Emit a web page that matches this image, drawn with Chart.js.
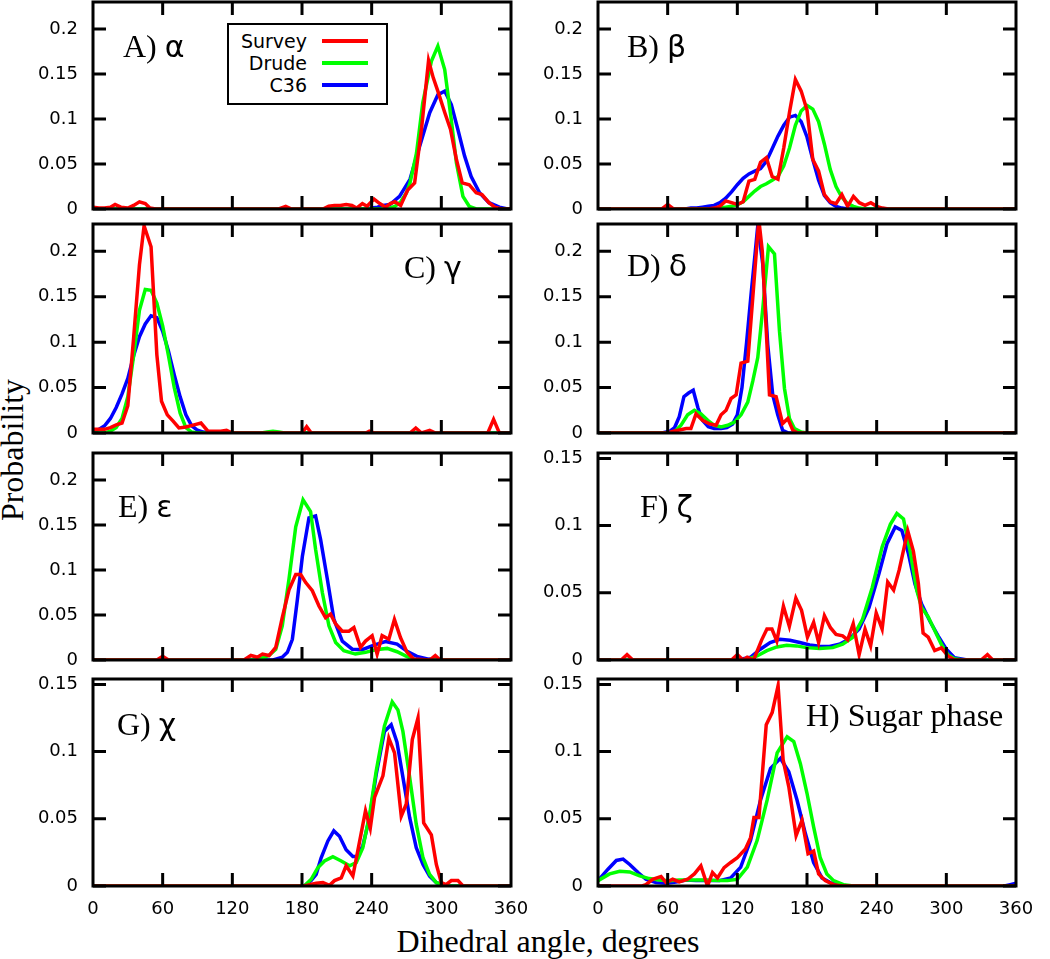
<!DOCTYPE html>
<html>
<head>
<meta charset="utf-8">
<title>Dihedral angle distributions</title>
<script src="https://cdn.jsdelivr.net/npm/chart.js@4.4.1/dist/chart.umd.min.js"></script>
<style>
  html, body { margin: 0; padding: 0; background: #fff; }
  body { position: relative; width: 1050px; height: 959px; overflow: hidden; }
  .panel { position: absolute; }
  #legend { position: absolute; left: 227px; top: 23px; width: 157px; height: 78px; border: 2px solid #000; background: #fff; z-index: 10; }
  .lg-text { position: absolute; left: 0; width: 78px; text-align: right; font: 19px "DejaVu Sans"; line-height: 22px; color: #000; }
  .lg-line { position: absolute; left: 93px; width: 46px; height: 4px; }
  .title { position: absolute; font: 32px "Liberation Serif"; line-height: 32px; white-space: nowrap; color: #000; }
</style>
</head>
<body>

<div id="legend">
  <div class="lg-text" style="top:5px">Survey</div><div class="lg-line" style="top:14px;background:#ff0000"></div>
  <div class="lg-text" style="top:27px">Drude</div><div class="lg-line" style="top:36px;background:#00ff00"></div>
  <div class="lg-text" style="top:49px">C36</div><div class="lg-line" style="top:58px;background:#0000ff"></div>
</div>
<div class="title" style="left:548px;top:925px;transform:translateX(-50%)">Dihedral angle, degrees</div>
<div class="title" style="left:12px;top:450px;transform:translate(-50%,-50%) rotate(-90deg)">Probability</div>

<script>
// tick values
const xTicks = [0, 60, 120, 180, 240, 300, 360];
const yTicksWide = [0, 0.05, 0.1, 0.15, 0.2];
const yTicksNarrow = [0, 0.05, 0.1, 0.15];

const seriesNames = ['Survey', 'Drude', 'C36'];
const seriesColors = ['#ff0000', '#00ff00', '#0000ff'];

// [angle, probability]
const alphaSurvey = [[0,0.002],[5,0.001],[10,0.001],[15,0.002],[19,0.005],[24,0.002],[30,0.001],[35,0.004],[40,0.008],[45,0.006],[49,0.001],[54,0],[160,0],[166,0.003],[171,0],[198,0],[203,0.003],[208,0.004],[213,0.004],[218,0.005],[223,0.004],[227,0.001],[232,0.006],[236,0.003],[242,0.011],[247,0.006],[252,0.002],[256,0.006],[260,0.008],[265,0.004],[271,0.021],[277,0.029],[283,0.09],[289,0.165],[293,0.146],[297,0.131],[303,0.107],[308,0.088],[313,0.055],[318,0.029],[324,0.027],[330,0.018],[335,0.016],[341,0.007],[346,0.002],[352,0],[360,0]];
const alphaDrude = [[0,0],[250,0],[255,0.001],[260,0.003],[265,0.008],[270,0.018],[273,0.029],[278.6,0.062],[284,0.118],[291.4,0.164],[297,0.181],[302.9,0.155],[308.6,0.099],[313,0.051],[318.6,0.014],[324,0.003],[330,0],[360,0]];
const alphaC36 = [[0,0],[235,0],[240,0.001],[245,0.002],[250,0.004],[255.7,0.005],[264,0.014],[273,0.033],[281.4,0.07],[290,0.107],[297,0.127],[302.9,0.131],[308.6,0.116],[314.3,0.088],[320,0.059],[325.7,0.036],[332.9,0.018],[341,0.007],[350,0.002],[357,0],[360,0]];

const betaSurvey = [[0,0],[55,0],[60,0.005],[65,0],[95,0],[100,0.001],[105,0.003],[110,0.009],[115,0.007],[120,0.005],[125,0.008],[130,0.031],[135,0.033],[140,0.052],[145,0.057],[150,0.036],[155,0.033],[160,0.068],[165,0.108],[170,0.144],[175,0.131],[180,0.11],[185,0.055],[190,0.042],[195,0.016],[200,0.008],[205,0.006],[210,0.016],[215,0.003],[220,0.014],[225,0.007],[230,0.004],[235,0.007],[240,0.003],[245,0.001],[250,0],[360,0]];
const betaDrude = [[0,0],[100,0],[105,0.001],[110,0.002],[115,0.003],[120,0.005],[125,0.008],[130,0.014],[135,0.02],[140,0.025],[145,0.028],[150,0.032],[155,0.036],[160,0.048],[165,0.068],[170,0.093],[175,0.109],[180,0.115],[185,0.111],[190,0.097],[195,0.072],[200,0.044],[205,0.025],[210,0.013],[215,0.006],[220,0.003],[225,0.001],[230,0],[360,0]];
const betaC36 = [[0,0],[75,0],[80,0.001],[85,0.001],[90,0.002],[95,0.003],[100,0.004],[105,0.007],[110,0.012],[115,0.019],[120,0.027],[125,0.034],[130,0.039],[135,0.042],[140,0.045],[145,0.053],[150,0.067],[155,0.081],[160,0.093],[165,0.102],[170,0.104],[175,0.097],[180,0.08],[185,0.055],[190,0.032],[195,0.015],[200,0.007],[205,0.003],[210,0.001],[215,0],[360,0]];

const gammaSurvey = [[0,0.004],[5,0.004],[10,0.004],[15,0.006],[20,0.009],[25,0.011],[30,0.03],[35,0.105],[40,0.185],[44,0.228],[50,0.205],[55,0.086],[59,0.035],[64,0.02],[69,0.013],[74,0.0055],[80,0.0066],[87,0.009],[93,0.011],[99,0.002],[105,0.002],[110,0.002],[115,0.003],[120,0],[180,0],[184,0.007],[188,0],[235,0],[238,0.002],[242,0],[273,0],[278,0.0055],[283,0],[290,0.003],[295,0],[340,0],[345,0.015],[350,0],[360,0]];
const gammaDrude = [[0,0],[10,0],[15,0.002],[20,0.006],[25,0.016],[30,0.04],[35,0.085],[40,0.135],[45,0.158],[50,0.157],[55,0.143],[60,0.118],[65,0.085],[70,0.05],[75,0.022],[80,0.006],[85,0.001],[90,0],[145,0],[150,0.001],[155,0.002],[160,0.001],[165,0],[360,0]];
const gammaC36 = [[0,0.001],[5,0.004],[10,0.008],[15,0.016],[20,0.028],[25,0.043],[30,0.06],[35,0.085],[40,0.106],[45,0.12],[50,0.129],[55,0.127],[60,0.112],[65,0.09],[70,0.064],[75,0.04],[80,0.02],[85,0.008],[90,0.003],[95,0.001],[100,0],[360,0]];

const deltaSurvey = [[0,0],[60,0],[65,0.002],[69,0.003],[76,0.005],[80,0.005],[84.4,0.021],[90,0.014],[96,0.01],[101.7,0.0085],[106,0.02],[110.3,0.025],[114.6,0.038],[119,0.042],[123.2,0.077],[129,0.079],[133.3,0.149],[138.5,0.235],[141.5,0.2],[147.7,0.042],[153.4,0.04],[159,0.0104],[163.5,0.016],[167.8,0.003],[172,0],[360,0]];
const deltaDrude = [[0,0],[60,0],[65.7,0.001],[71.5,0.0085],[77.2,0.02],[83,0.025],[88.7,0.021],[94.5,0.014],[100.2,0.0085],[106,0.0067],[111.7,0.0085],[117.5,0.012],[123.2,0.02],[129,0.034],[133.3,0.057],[137.6,0.083],[142,0.138],[146.8,0.205],[152,0.197],[156.3,0.112],[160.6,0.049],[164.9,0.016],[169.2,0.005],[175,0.001],[180,0],[360,0]];
const deltaC36 = [[0,0],[55,0],[62,0.002],[66,0.006],[70,0.018],[74,0.04],[78,0.044],[82,0.047],[86,0.028],[90,0.014],[95,0.007],[100,0.005],[106,0.005],[111,0.006],[116,0.01],[120,0.02],[124,0.05],[128,0.1],[132,0.155],[135.5,0.2],[137.6,0.228],[141.9,0.186],[146.2,0.097],[150.5,0.042],[154.8,0.02],[159,0.003],[164,0],[360,0]];

const epsilonSurvey = [[0,0],[55,0],[60,0.004],[65,0],[130,0],[136,0.005],[141.6,0.003],[146,0.0066],[151.6,0.005],[157.4,0.014],[163,0.047],[168.8,0.078],[174.6,0.095],[178.9,0.095],[183.2,0.086],[188.9,0.077],[194.6,0.06],[200.3,0.047],[204.6,0.051],[209,0.04],[214.7,0.032],[220.4,0.032],[224.7,0.036],[230.4,0.014],[234.7,0.021],[240.4,0.027],[244.7,0.0066],[249,0.027],[254.8,0.023],[259.6,0.045],[264.8,0.025],[270.5,0.0085],[276.2,0.001],[290,0],[294.8,0.005],[299,0],[360,0]];
const epsilonDrude = [[0,0],[140,0],[143,0.001],[151.6,0.005],[157.4,0.012],[163,0.038],[168.8,0.09],[174.6,0.148],[180.9,0.178],[187.4,0.165],[191.7,0.123],[197.5,0.075],[203.2,0.038],[209,0.0195],[216,0.0103],[226,0.0066],[234.7,0.0085],[243.3,0.0114],[253.3,0.0129],[261.9,0.0092],[270.5,0.0037],[278,0],[360,0]];
const epsilonC36 = [[0,0],[155,0],[157.4,0.001],[163,0.003],[167.4,0.0085],[171.7,0.023],[176,0.067],[180.3,0.115],[186,0.158],[191.7,0.16],[196,0.134],[201.8,0.09],[207.5,0.045],[214.7,0.021],[223.3,0.012],[231.9,0.0114],[241.9,0.0166],[251.9,0.0206],[261.9,0.0177],[270.5,0.0096],[279,0.004],[289,0.001],[298,0],[360,0]];

const zetaSurvey = [[0,0],[20,0],[25,0.004],[30,0],[115,0],[120,0.004],[125,0],[128.5,0.002],[134,0],[141,0.015],[145.5,0.023],[149.8,0.023],[154,0.014],[159.7,0.04],[164.8,0.025],[170.4,0.046],[175.3,0.037],[180.4,0.017],[185.7,0.028],[190,0.013],[195,0.033],[200.2,0.024],[205,0.019],[210.7,0.018],[215,0.015],[219.8,0.027],[224.9,0.004],[230,0.023],[234.8,0.0105],[239.6,0.035],[244.7,0.023],[249.5,0.058],[254.6,0.052],[259.4,0.067],[266.8,0.096],[271.6,0.081],[275.9,0.057],[280,0.02],[284.4,0.017],[290,0.007],[295.7,0.009],[301.4,0.003],[307,0],[330,0],[335.4,0.004],[340,0],[360,0]];
const zetaDrude = [[0,0],[125,0],[128.5,0.0005],[137,0.003],[145.5,0.007],[154,0.0097],[162.5,0.011],[171,0.0105],[179.5,0.0092],[190.9,0.0085],[202.2,0.0092],[210.7,0.0117],[219.2,0.0167],[227.7,0.03],[236.2,0.054],[244.7,0.084],[251.8,0.101],[257.4,0.109],[263.1,0.105],[268.8,0.081],[274.5,0.052],[278.7,0.039],[284.4,0.032],[290,0.022],[295.7,0.0117],[301.4,0.004],[307,0.001],[315,0],[360,0]];
const zetaC36 = [[0,0],[120,0],[131.3,0.002],[139.8,0.008],[148.3,0.013],[156.8,0.0155],[165.3,0.0147],[173.8,0.013],[182.3,0.0112],[190.9,0.0102],[199.4,0.01],[207.9,0.0117],[216.4,0.0155],[224.9,0.023],[233.4,0.039],[241.9,0.064],[248.9,0.0865],[256,0.099],[261.7,0.0964],[267.4,0.079],[273,0.0566],[278.7,0.0416],[285.8,0.029],[292.9,0.018],[300,0.008],[307,0.0017],[318,0],[360,0]];

const chiSurvey = [[0,0],[182,0],[186.5,0.001],[192.2,0.002],[198,0.0025],[203.7,0.0005],[208,0.004],[213.8,0.006],[218,0.015],[223.8,0.0074],[228,0.026],[234.7,0.056],[238.8,0.043],[242.5,0.066],[249.7,0.082],[254.8,0.11],[259.7,0.099],[265.5,0.052],[269.8,0.061],[275,0.109],[279.9,0.125],[284.8,0.047],[291.4,0.038],[295.7,0.016],[300,0.0025],[304,0.001],[308.6,0.004],[314.3,0.004],[318.7,0],[360,0]];
const chiDrude = [[0,0],[182,0],[187.9,0.005],[193.6,0.0136],[199.4,0.0186],[206.6,0.0218],[213.8,0.0186],[221,0.015],[226.7,0.0174],[232.4,0.0285],[238.2,0.053],[243.9,0.0855],[251,0.119],[257.7,0.137],[262.6,0.131],[266.9,0.115],[272.7,0.081],[278.4,0.046],[284.2,0.021],[289.9,0.0087],[295.7,0.0025],[301.4,0.001],[306,0],[360,0]];
const chiC36 = [[0,0],[182,0],[187.9,0.004],[192.2,0.0087],[196.5,0.021],[202.3,0.0335],[207.4,0.041],[212.3,0.037],[218,0.027],[223.8,0.022],[228,0.022],[232.4,0.03],[238.2,0.051],[243.9,0.083],[251,0.115],[256.8,0.12],[261.8,0.107],[266.9,0.081],[272.7,0.051],[278.4,0.0285],[284.2,0.016],[289.9,0.0074],[295.7,0.0025],[301.4,0.001],[306,0],[360,0]];

const sugarSurvey = [[0,0],[38,0],[41.3,0.001],[47,0.005],[54.3,0.007],[58.6,0.0025],[64.3,0.005],[70,0.003],[77.2,0.005],[83,0.009],[88.6,0.015],[94.3,0],[98.6,0.01],[102.9,0.006],[108.6,0.0137],[114.3,0.0175],[120,0.021],[127,0.0275],[131.4,0.036],[134.3,0.051],[138.6,0.051],[144.9,0.12],[150,0.129],[155.1,0.149],[159.4,0.094],[164.3,0.074],[170.6,0.0375],[175.7,0.049],[180.9,0.024],[185.7,0.026],[190,0.009],[195.7,0.004],[202.9,0.001],[210,0],[360,0]];
const sugarDrude = [[0,0.004],[10,0.009],[18.7,0.011],[27.3,0.0105],[35.9,0.0075],[44.2,0.0055],[52.8,0.0045],[61.4,0.004],[70,0.0045],[81.5,0.0045],[93,0.0045],[104.5,0.004],[111.4,0.004],[120,0.005],[128.6,0.014],[137.1,0.034],[145.7,0.064],[154.3,0.099],[162.9,0.111],[168.6,0.1075],[174.3,0.091],[180,0.069],[185.7,0.044],[191.4,0.021],[197.1,0.009],[202.9,0.004],[211.4,0.001],[220,0],[360,0]];
const sugarC36 = [[0,0.004],[8.6,0.0125],[15.8,0.019],[21.6,0.02],[27.3,0.016],[34.5,0.01],[41.3,0.005],[49.9,0.0025],[58.6,0.002],[67.2,0.003],[75.8,0.0045],[84.4,0.004],[93,0.004],[104.5,0.004],[114.3,0.006],[122.9,0.014],[131.4,0.034],[140,0.064],[148.6,0.0875],[157.1,0.095],[164.3,0.085],[171.4,0.064],[178.6,0.039],[185.7,0.0175],[192.9,0.006],[200,0.0025],[208.6,0.001],[215,0],[350,0],[355,0.001],[360,0.002]];

// page layout of the plot areas
const colLeft = [93, 598], colRight = [511, 1016];
const rowTop = [2, 224, 453, 679], rowBottom = [209, 433, 660, 886];
const PAD = 40, YW = 90, XH = 40, TICK = 13;

const panels = [
  { tag: 'A)', greek: 'α', col: 0, row: 0, ymax: 0.23, yTicks: yTicksWide, series: [alphaSurvey, alphaDrude, alphaC36], dx: 30, dy: 55 },
  { tag: 'B)', greek: 'β', col: 1, row: 0, ymax: 0.23, yTicks: yTicksWide, series: [betaSurvey, betaDrude, betaC36], dx: 29, dy: 55 },
  { tag: 'C)', greek: 'γ', col: 0, row: 1, ymax: 0.23, yTicks: yTicksWide, series: [gammaSurvey, gammaDrude, gammaC36], dx: 311, dy: 54 },
  { tag: 'D)', greek: 'δ', col: 1, row: 1, ymax: 0.23, yTicks: yTicksWide, series: [deltaSurvey, deltaDrude, deltaC36], dx: 29, dy: 52 },
  { tag: 'E)', greek: 'ε', col: 0, row: 2, ymax: 0.23, yTicks: yTicksWide, series: [epsilonSurvey, epsilonDrude, epsilonC36], dx: 25, dy: 64 },
  { tag: 'F)', greek: 'ζ', col: 1, row: 2, ymax: 0.154, yTicks: yTicksNarrow, series: [zetaSurvey, zetaDrude, zetaC36], dx: 42, dy: 64 },
  { tag: 'G)', greek: 'χ', col: 0, row: 3, ymax: 0.154, yTicks: yTicksNarrow, series: [chiSurvey, chiDrude, chiC36], dx: 24, dy: 56 },
  { tag: 'H) Sugar phase', greek: '', col: 1, row: 3, ymax: 0.154, yTicks: yTicksNarrow, series: [sugarSurvey, sugarDrude, sugarC36], dx: 208, dy: 47 }
];

// frame with inward ticks on all four sides, plus the panel tag
const framePlugin = {
  id: 'frame',
  afterDatasetsDraw(chart, args, opts) {
    const { ctx, chartArea: a, scales: { x, y } } = chart;
    ctx.save();
    ctx.strokeStyle = '#000';
    ctx.lineWidth = 3;
    ctx.beginPath();
    x.ticks.forEach(t => {
      if (t.value <= x.min || t.value >= x.max) return;
      const px = x.getPixelForValue(t.value);
      ctx.moveTo(px, a.bottom); ctx.lineTo(px, a.bottom - TICK);
      ctx.moveTo(px, a.top); ctx.lineTo(px, a.top + TICK);
    });
    y.ticks.forEach(t => {
      const py = y.getPixelForValue(t.value);
      ctx.moveTo(a.left, py); ctx.lineTo(a.left + TICK, py);
      ctx.moveTo(a.right, py); ctx.lineTo(a.right - TICK, py);
    });
    ctx.stroke();
    ctx.strokeRect(a.left, a.top, a.right - a.left, a.bottom - a.top);

    ctx.fillStyle = '#000';
    ctx.textBaseline = 'alphabetic';
    ctx.textAlign = 'left';
    ctx.font = '32px "Liberation Serif"';
    const tx = a.left + opts.dx, ty = a.top + opts.dy;
    ctx.fillText(opts.text, tx, ty);
    if (opts.greek) {
      const gap = ctx.measureText(opts.text + ' ').width;
      ctx.font = '30px "DejaVu Sans"';
      ctx.fillText(opts.greek, tx + gap, ty);
    }
    ctx.restore();
  }
};

const tickFont = { family: 'DejaVu Sans', size: 18 };

panels.forEach(p => {
  const bottomRow = p.row === 3;
  const xh = bottomRow ? XH : 0;
  const w = PAD + YW + (colRight[p.col] - colLeft[p.col]) + PAD;
  const h = PAD + (rowBottom[p.row] - rowTop[p.row]) + xh + PAD;

  const wrap = document.createElement('div');
  wrap.className = 'panel';
  wrap.style.left = (colLeft[p.col] - YW - PAD) + 'px';
  wrap.style.top = (rowTop[p.row] - PAD) + 'px';
  const canvas = document.createElement('canvas');
  canvas.width = w;
  canvas.height = h;
  canvas.style.width = w + 'px';
  canvas.style.height = h + 'px';
  wrap.appendChild(canvas);
  document.body.appendChild(wrap);

  new Chart(canvas, {
    type: 'line',
    data: {
      datasets: p.series.map((s, i) => ({
        label: seriesNames[i],
        data: s.map(([ang, prob]) => ({ x: ang, y: prob })),
        borderColor: seriesColors[i],
        borderWidth: 3.5,
        pointRadius: 0,
        tension: 0,
        fill: false
      }))
    },
    options: {
      responsive: false,
      animation: false,
      layout: { padding: PAD },
      plugins: {
        legend: { display: false },
        tooltip: { enabled: false },
        frame: { text: p.tag, greek: p.greek, dx: p.dx, dy: p.dy }
      },
      scales: {
        x: {
          type: 'linear',
          min: 0,
          max: 360,
          afterBuildTicks: scale => { scale.ticks = xTicks.map(v => ({ value: v })); },
          afterFit: scale => { scale.height = xh; },
          grid: { display: false, drawTicks: false },
          border: { display: false },
          ticks: { display: bottomRow, autoSkip: false, maxRotation: 0, padding: 13, color: '#000', font: tickFont }
        },
        y: {
          min: 0,
          max: p.ymax,
          afterBuildTicks: scale => { scale.ticks = p.yTicks.map(v => ({ value: v })); },
          afterFit: scale => { scale.width = YW; },
          grid: { display: false, drawTicks: false },
          border: { display: false },
          ticks: { padding: 15, color: '#000', font: tickFont, callback: v => String(v) }
        }
      }
    },
    plugins: [framePlugin]
  });
});
</script>
</body>
</html>
